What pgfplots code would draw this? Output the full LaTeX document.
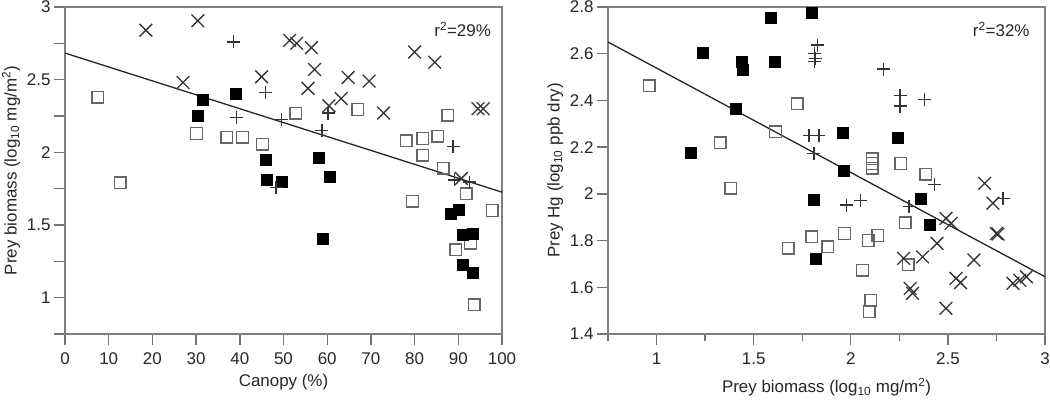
\documentclass[border=0pt]{standalone}
\usepackage{fontspec}
\setmainfont{Liberation Sans}
\usepackage{pgfplots}
\pgfplotsset{compat=1.18}
\begin{document}
\begin{tikzpicture}
\pgfplotsset{
  myax/.style={
    scale only axis, width=437bp, height=327bp,
    axis line style={black!50, line width=1.6bp},
    every tick/.style={black!55, line width=1.4bp},
    tick align=outside, tick pos=left,
    major tick length=11bp, minor tick length=11bp,
    /pgf/number format/assume math mode=true,
    tick label style={font=\fontsize{17}{20}\selectfont, text=black!85},
    xticklabel style={yshift=-4bp},
    label style={font=\fontsize{17}{20}\selectfont, text=black!85},
    clip=false,
  },
  opensq/.style={only marks, mark=square, mark size=5.8bp, mark options={draw=black!60, line width=1.4bp}},
  fillsq/.style={only marks, mark=square*, mark size=5.5bp, mark options={draw=black, fill=black}},
  xm/.style={only marks, mark=x, mark size=9bp, mark options={draw=black!80, line width=1.3bp}},
  pm/.style={only marks, mark=+, mark size=6.5bp, mark options={draw=black!80, line width=1.3bp}},
  reg/.style={black!85, line width=1.3bp, no marks},
}
\path[use as bounding box] (-65bp,-69bp) rectangle (985bp,334bp);
\begin{axis}[myax,
  xmin=0, xmax=100, ymin=0.75, ymax=3,
  xtick={0,10,20,30,40,50,60,70,80,90,100},
  ytick={1,1.5,2,2.5,3},
  minor ytick={0.75,1.25,1.75,2.25,2.75},
  xlabel={Canopy (\%)},
  xlabel style={yshift=-3bp},
  ylabel={Prey biomass (log\textsubscript{10} mg/m\textsuperscript{2})},
]
\addplot[reg] coordinates {(0,2.683) (100,1.726)};
\addplot[opensq] coordinates {
(7.5,2.38) (12.6,1.79) (30.1,2.13) (37,2.105) (40.6,2.105) (45.2,2.055)
(52.8,2.27) (67,2.295) (78.1,2.08) (79.5,1.665) (81.9,2.095) (81.9,1.98)
(85.3,2.11) (86.5,1.89) (87.6,2.255) (89.4,1.33) (91.8,1.715) (92.8,1.375)
(93.6,0.95) (97.8,1.60)
};
\addplot[fillsq] coordinates {
(30.3,2.25) (31.5,2.36) (39,2.40) (45.9,1.95) (46.1,1.81) (49.5,1.80)
(58,1.965) (59,1.405) (60.6,1.83) (88.2,1.58) (90.1,1.605) (90.9,1.43)
(93.3,1.44) (91,1.23) (93.3,1.17)
};
\addplot[xm] coordinates {
(18.5,2.84) (30.4,2.905) (27,2.48) (45,2.52) (51.4,2.77) (53,2.75)
(56.4,2.72) (57.1,2.57) (55.6,2.44) (64.8,2.515) (69.6,2.49) (80,2.69)
(84.6,2.62) (63.2,2.37) (60.4,2.32) (72.9,2.27) (94.5,2.30) (95.7,2.30)
(90.7,1.82)
};
\addplot[pm] coordinates {
(38.6,2.76) (45.9,2.41) (39.2,2.24) (49.6,2.225) (48.3,1.76) (60.2,2.27)
(58.8,2.15) (88.8,2.04) (89.1,1.81) (92.6,1.795)
};
\node[anchor=north east, font=\fontsize{17}{20}\selectfont, text=black!85, inner sep=0pt] at (rel axis cs:0.975,0.955) {r\textsuperscript{2}=29\%};
\end{axis}
\begin{axis}[myax, at={(543bp,0)},
  xmin=0.75, xmax=3, ymin=1.4, ymax=2.8,
  xtick={1,1.5,2,2.5,3},
  minor xtick={0.75,1.25,1.75,2.25,2.75},
  minor tick length=7bp,
  ytick={1.4,1.6,1.8,2,2.2,2.4,2.6,2.8},
  xlabel={Prey biomass (log\textsubscript{10} mg/m\textsuperscript{2})},
  xlabel style={yshift=-7bp},
  ylabel={Prey Hg (log\textsubscript{10} ppb dry)},
]
\addplot[reg] coordinates {(0.75,2.65) (3,1.645)};
\addplot[opensq] coordinates {
(0.962,2.462) (1.327,2.219) (1.383,2.024) (1.612,2.266) (1.724,2.385)
(1.677,1.767) (1.80,1.816) (1.882,1.773) (1.968,1.83) (2.06,1.674)
(2.094,1.495) (2.103,1.545) (2.089,1.80) (2.14,1.822) (2.11,2.15)
(2.11,2.13) (2.11,2.11) (2.258,2.13) (2.387,2.085) (2.28,1.876) (2.296,1.697)
};
\addplot[fillsq] coordinates {
(1.177,2.176) (1.238,2.606) (1.408,2.366) (1.44,2.566) (1.445,2.53)
(1.586,2.756) (1.608,2.566) (1.80,2.776) (1.957,2.262) (1.965,2.099)
(1.807,1.973) (1.818,1.724) (2.241,2.242) (2.358,1.98) (2.404,1.866)
};
\addplot[pm] coordinates {
(1.785,2.25) (1.836,2.25) (1.81,2.173) (1.827,2.637) (1.813,2.60)
(1.813,2.566) (1.82,2.58) (2.169,2.534) (2.254,2.42) (2.254,2.376)
(2.379,2.405) (1.979,1.952) (2.051,1.973) (2.30,1.945) (2.43,2.04) (2.784,1.98)
};
\addplot[xm] coordinates {
(2.689,2.045) (2.732,1.96) (2.49,1.895) (2.517,1.874) (2.758,1.828)
(2.75,1.83) (2.444,1.788) (2.37,1.73) (2.272,1.724) (2.634,1.717)
(2.542,1.638) (2.565,1.62) (2.306,1.595) (2.318,1.574) (2.49,1.51)
(2.835,1.617) (2.87,1.63) (2.904,1.645)
};
\node[anchor=north east, font=\fontsize{17}{20}\selectfont, text=black!85, inner sep=0pt] at (rel axis cs:0.965,0.955) {r\textsuperscript{2}=32\%};
\end{axis}
\end{tikzpicture}
\end{document}
